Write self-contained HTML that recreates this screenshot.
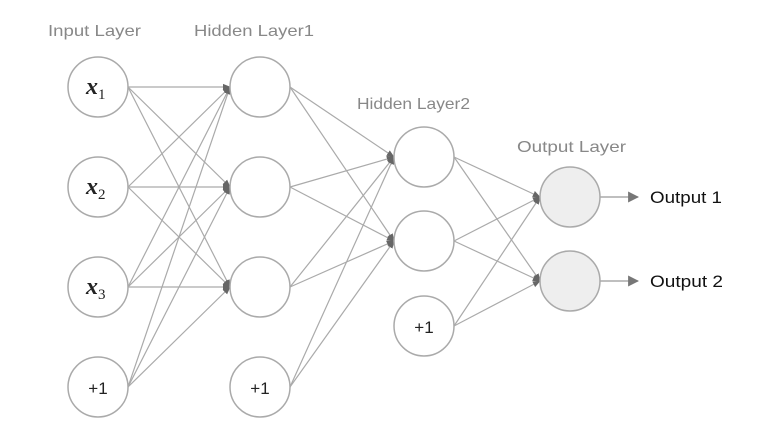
<!DOCTYPE html>
<html><head><meta charset="utf-8"><style>
html,body{margin:0;padding:0;background:#fff;width:775px;height:436px;overflow:hidden}
</style></head><body>
<svg width="775" height="436" viewBox="0 0 775 436" xmlns="http://www.w3.org/2000/svg">
<defs>
<marker id="a" viewBox="0 0 10 10" refX="9" refY="5" markerWidth="8" markerHeight="8" markerUnits="userSpaceOnUse" orient="auto"><path d="M0,1 L10,5 L0,9 Z" fill="#666"/></marker>
<marker id="b" viewBox="0 0 10 10" refX="9" refY="5" markerWidth="11" markerHeight="11" markerUnits="userSpaceOnUse" orient="auto"><path d="M0,0 L10,5 L0,10 Z" fill="#777"/></marker>
</defs>
<g stroke="#aaa" stroke-width="1.2" fill="none" marker-end="url(#a)">
<line x1="128" y1="87" x2="230" y2="87"/><line x1="128" y1="87" x2="230" y2="187"/><line x1="128" y1="87" x2="230" y2="287"/>
<line x1="128" y1="187" x2="230" y2="87"/><line x1="128" y1="187" x2="230" y2="187"/><line x1="128" y1="187" x2="230" y2="287"/>
<line x1="128" y1="287" x2="230" y2="87"/><line x1="128" y1="287" x2="230" y2="187"/><line x1="128" y1="287" x2="230" y2="287"/>
<line x1="128" y1="387" x2="230" y2="87"/><line x1="128" y1="387" x2="230" y2="187"/><line x1="128" y1="387" x2="230" y2="287"/>
<line x1="290" y1="87" x2="394" y2="157"/><line x1="290" y1="87" x2="394" y2="241"/>
<line x1="290" y1="187" x2="394" y2="157"/><line x1="290" y1="187" x2="394" y2="241"/>
<line x1="290" y1="287" x2="394" y2="157"/><line x1="290" y1="287" x2="394" y2="241"/>
<line x1="290" y1="387" x2="394" y2="157"/><line x1="290" y1="387" x2="394" y2="241"/>
<line x1="454" y1="157" x2="540" y2="197"/><line x1="454" y1="157" x2="540" y2="281"/>
<line x1="454" y1="241" x2="540" y2="197"/><line x1="454" y1="241" x2="540" y2="281"/>
<line x1="454" y1="326" x2="540" y2="197"/><line x1="454" y1="326" x2="540" y2="281"/>
</g>
<g stroke="#999" stroke-width="1.3" marker-end="url(#b)">
<line x1="600" y1="197" x2="638" y2="197"/><line x1="600" y1="281" x2="638" y2="281"/>
</g>
<g stroke="#aaa" stroke-width="1.5" fill="#fff">
<circle cx="98" cy="87" r="30"/><circle cx="98" cy="187" r="30"/><circle cx="98" cy="287" r="30"/><circle cx="98" cy="387" r="30"/>
<circle cx="260" cy="87" r="30"/><circle cx="260" cy="187" r="30"/><circle cx="260" cy="287" r="30"/><circle cx="260" cy="387" r="30"/>
<circle cx="424" cy="157" r="30"/><circle cx="424" cy="241" r="30"/><circle cx="424" cy="326" r="30"/>
<circle cx="570" cy="197" r="30" fill="#eee"/><circle cx="570" cy="281" r="30" fill="#eee"/>
</g>
<g font-family="Liberation Sans, sans-serif" font-size="16" fill="#888">
<text x="48" y="36" textLength="93" lengthAdjust="spacingAndGlyphs">Input Layer</text>
<text x="194" y="36" textLength="120" lengthAdjust="spacingAndGlyphs">Hidden Layer1</text>
<text x="357" y="109" textLength="113" lengthAdjust="spacingAndGlyphs">Hidden Layer2</text>
<text x="517" y="152" textLength="109" lengthAdjust="spacingAndGlyphs">Output Layer</text>
</g>
<g font-family="Liberation Serif, serif" font-style="italic" font-weight="bold" font-size="24" fill="#222">
<text x="86" y="94">x<tspan font-size="15" font-style="normal" font-weight="normal" dy="5">1</tspan></text>
<text x="86" y="194">x<tspan font-size="15" font-style="normal" font-weight="normal" dy="5">2</tspan></text>
<text x="86" y="294">x<tspan font-size="15" font-style="normal" font-weight="normal" dy="5">3</tspan></text>
</g>
<g font-family="Liberation Sans, sans-serif" font-size="17" fill="#222" text-anchor="middle">
<text x="98" y="394">+1</text><text x="260" y="394">+1</text><text x="424" y="333">+1</text>
</g>
<g font-family="Liberation Sans, sans-serif" font-size="17" fill="#111">
<text x="650" y="203" textLength="72" lengthAdjust="spacingAndGlyphs">Output 1</text>
<text x="650" y="287" textLength="73" lengthAdjust="spacingAndGlyphs">Output 2</text>
</g>
</svg>
</body></html>
